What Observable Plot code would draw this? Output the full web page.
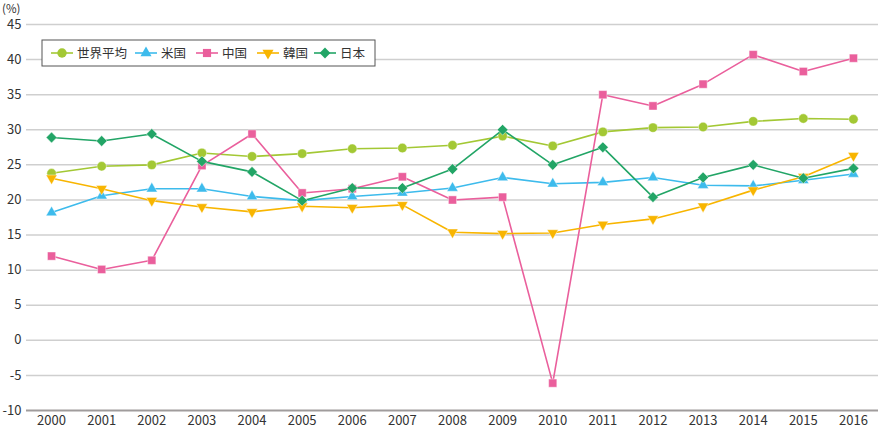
<!DOCTYPE html>
<html>
<head>
<meta charset="utf-8">
<script src="https://cdn.jsdelivr.net/npm/d3@7"></script>
<script src="https://cdn.jsdelivr.net/npm/@observablehq/plot@0.6"></script>
<style>
  html, body { margin: 0; padding: 0; background: #fff; }
  #chart { position: relative; width: 881px; height: 429px; }
  svg { font-family: "Noto Sans CJK JP", "Noto Sans", sans-serif; }
</style>
</head>
<body>
<div id="chart"></div>
<script>
const years = [2000, 2001, 2002, 2003, 2004, 2005, 2006, 2007, 2008, 2009, 2010, 2011, 2012, 2013, 2014, 2015, 2016];
const yTicks = [-10, -5, 0, 5, 10, 15, 20, 25, 30, 35, 40, 45];

const seriesNames = ["世界平均", "米国", "中国", "韓国", "日本"];
const world = [23.8, 24.8, 25.0, 26.7, 26.2, 26.6, 27.3, 27.4, 27.8, 29.1, 27.7, 29.7, 30.3, 30.4, 31.2, 31.6, 31.5];
const us    = [18.2, 20.6, 21.6, 21.6, 20.5, 19.9, 20.5, 21.0, 21.7, 23.2, 22.3, 22.5, 23.2, 22.1, 22.0, 22.8, 23.7];
const china = [12.0, 10.1, 11.4, 24.9, 29.4, 21.0, 21.6, 23.3, 20.0, 20.4, -6.1, 35.0, 33.4, 36.5, 40.7, 38.3, 40.2];
const korea = [23.1, 21.6, 19.9, 19.0, 18.3, 19.1, 18.9, 19.3, 15.4, 15.2, 15.3, 16.5, 17.3, 19.1, 21.4, 23.3, 26.3];
const japan = [28.9, 28.4, 29.4, 25.5, 24.0, 19.9, 21.7, 21.7, 24.4, 30.0, 25.0, 27.5, 20.4, 23.2, 25.0, 23.1, 24.5];

const seriesValues = [world, us, china, korea, japan];
const colors  = ["#a3c834", "#3dbbec", "#ea5f9c", "#f8b500", "#22a566"];
const symbols = ["circle", "triangle", "square", "triangle", "square"];
const rotates = [0, 0, 0, 180, 45];
const radii   = [4.7, 4.1, 4.6, 4.1, 4.3];

const rows = seriesNames.map((name, i) =>
  years.map((yr, j) => ({ name, year: yr, value: seriesValues[i][j] }))
);

const marks = [
  Plot.ruleY(yTicks.filter(d => d > -10), { stroke: "#cfcfcf", strokeWidth: 1.5 }),
  Plot.ruleY([-10], { stroke: "#a09c9c", strokeWidth: 2.2 }),
  Plot.axisY({ ticks: yTicks, tickSize: 0, tickPadding: 5, tickFormat: d => String(d), label: null, fontSize: 13, fill: "#333" }),
  Plot.axisX({ ticks: years, tickSize: 0, tickPadding: 5, tickFormat: d => String(d), label: null, fontSize: 13, fill: "#333" })
];
seriesNames.forEach((name, i) => {
  marks.push(Plot.line(rows[i], { x: "year", y: "value", stroke: colors[i], strokeWidth: 1.6 }));
  marks.push(Plot.dot(rows[i], {
    x: "year", y: "value", symbol: symbols[i], r: radii[i], rotate: rotates[i],
    fill: colors[i], stroke: "#fff", strokeWidth: 0.6, strokeOpacity: 0.7
  }));
});

const plot = Plot.plot({
  width: 881,
  height: 429,
  marginLeft: 26,
  marginRight: 3,
  marginTop: 24,
  marginBottom: 19,
  style: { fontFamily: '"Noto Sans CJK JP", "Noto Sans", sans-serif', fontSize: "13px", color: "#333", background: "#fff" },
  x: { type: "linear", domain: [1999.5, 2016.5] },
  y: { domain: [-10, 45] },
  marks
});
document.getElementById("chart").appendChild(plot);

// unit label and legend
const svg = d3.select(plot);
svg.append("text").attr("x", 2).attr("y", 12.5).attr("text-anchor", "start")
  .attr("font-size", 11.5).attr("fill", "#333").text("(%)");

const lg = svg.append("g").attr("class", "legend").attr("text-anchor", "start");
lg.append("rect").attr("x", 42).attr("y", 40).attr("width", 333).attr("height", 26)
  .attr("fill", "#fff").attr("stroke", "#555").attr("stroke-width", 1);
const lineStarts = [51, 135, 196, 257, 314];
const sym = { circle: d3.symbolCircle, triangle: d3.symbolTriangle, square: d3.symbolSquare };
seriesNames.forEach((name, i) => {
  const x0 = lineStarts[i];
  const cy = 53;
  const g = lg.append("g");
  g.append("line").attr("x1", x0).attr("x2", x0 + 22).attr("y1", cy).attr("y2", cy)
    .attr("stroke", colors[i]).attr("stroke-width", 1.6);
  g.append("path")
    .attr("d", d3.symbol(sym[symbols[i]], Math.PI * radii[i] * radii[i])())
    .attr("transform", `translate(${x0 + 11},${cy}) rotate(${rotates[i]})`)
    .attr("fill", colors[i]);
  g.append("text").attr("x", x0 + 26).attr("y", cy).attr("dy", "0.36em")
    .attr("font-size", 12.5).attr("fill", "#333").text(name);
});
</script>
</body>
</html>
